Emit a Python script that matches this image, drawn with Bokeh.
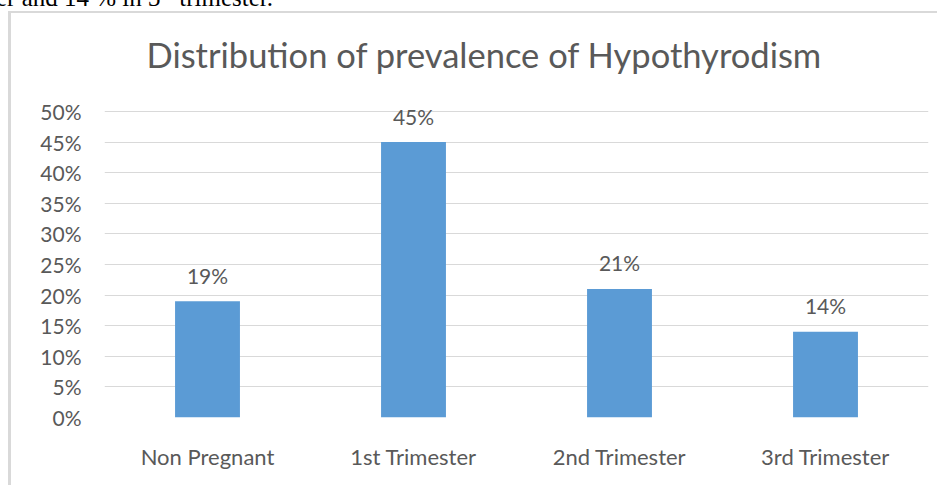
from bokeh.plotting import figure
from bokeh.models import NumeralTickFormatter, FixedTicker, ColumnDataSource, Div, Label
from bokeh.layouts import column
from bokeh.core.properties import value
from bokeh.embed import file_html
from bokeh.resources import INLINE

categories = ["Non Pregnant", "1st Trimester", "2nd Trimester", "3rd Trimester"]
prevalence = [0.19, 0.45, 0.21, 0.14]
labels = ["19%", "45%", "21%", "14%"]
y_ticks = [0, 0.05, 0.10, 0.15, 0.20, 0.25, 0.30, 0.35, 0.40, 0.45, 0.50]
title_text = "Distribution of prevalence of Hypothyrodism"
doc_pre, doc_sup, doc_post = "er and 14 % in 3", "rd", " trimester."

FONT = "Lato"
GREY = "#595959"
LINE = "#d9d9d9"

# canvas origin sits at page (11, 13) because of the CSS margin + border below
W, H = 929, 474
ML, MR, MT, MB = 93, 12, 0, 70

# cropped line of the surrounding document text (only its lower part is visible)
doc = Div(text=f'{doc_pre}<sup style="line-height:0;font-size:0.6em">{doc_sup}</sup>{doc_post}',
          width=420, height=24,
          styles={"margin-top": "-14px", "margin-left": "-4px", "font-family": "Liberation Serif",
                  "font-size": "25px", "line-height": "24px", "color": "black",
                  "white-space": "nowrap"})

src = ColumnDataSource(dict(cat=categories, val=prevalence, lab=labels))

# frame reaches the top of the canvas so the title and data labels are not clipped;
# the value axis still only ticks 0%..50%
p = figure(x_range=categories, y_range=(0, 0.66), width=W, height=H,
           output_backend="svg", toolbar_location=None,
           min_border_left=ML, min_border_right=MR, min_border_top=MT, min_border_bottom=MB)
p.outline_line_color = None
p.background_fill_color = "white"
p.border_fill_color = "white"

p.vbar(x="cat", top="val", width=0.315, source=src, color="#5b9bd5", line_color=None)
p.text(x="cat", y="val", text="lab", source=src, text_align="center", text_baseline="middle",
       y_offset=-26, text_font=value(FONT), text_font_size="21px", text_color=GREY)

p.yaxis.ticker = FixedTicker(ticks=y_ticks)
p.yaxis.formatter = NumeralTickFormatter(format="0%")
for ax in (p.xaxis, p.yaxis):
    ax.axis_line_color = None
    ax.major_tick_line_color = None
    ax.minor_tick_line_color = None
    ax.major_tick_out = 0
    ax.major_tick_in = 0
    ax.major_label_text_font = FONT
    ax.major_label_text_color = GREY
p.yaxis.major_label_text_font_size = "21px"
p.xaxis.major_label_text_font_size = "22px"
p.yaxis.major_label_standoff = 23
p.xaxis.major_label_standoff = 25

p.xgrid.grid_line_color = None
p.ygrid.grid_line_color = LINE
p.ygrid.grid_line_width = 1

# chart title (screen units relative to the frame's bottom-left corner)
frame_h = H - MT - MB
p.add_layout(Label(x=42, y=frame_h - 41, x_units="screen", y_units="screen", text=title_text,
                   text_align="left", text_baseline="alphabetic", text_font=FONT,
                   text_font_size="34.5px", text_color=GREY))

p.styles = {"margin-left": "8px", "margin-top": "-4px",
            "border-left": f"3px solid {LINE}", "border-top": f"2px solid {LINE}"}

layout = column(doc, p, spacing=0)

template = "{% block preamble %}<style>html, body { overflow: hidden; }</style>{% endblock %}"
open("out.html", "w").write(file_html(layout, INLINE, template=template))
